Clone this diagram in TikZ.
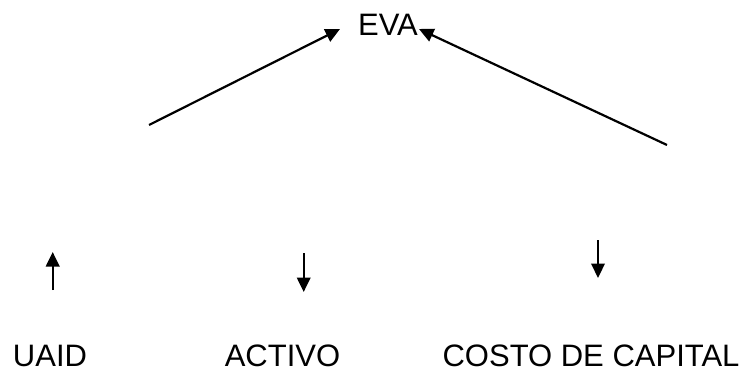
\documentclass[tikz,border=0pt]{standalone}
\usepackage{fontspec}
\setmainfont{Liberation Sans}
\usetikzlibrary{arrows.meta}
\begin{document}
\begin{tikzpicture}[x=1pt,y=-1pt,
  label/.style={inner sep=0pt,anchor=base,font=\fontsize{31}{37}\selectfont},
  arrowline/.style={line width=2.2pt,-{Triangle[length=14.5pt,width=13.5pt]}}]
\useasboundingbox (0,0) rectangle (751,371);
% labels
\node[label] (eva) at (388,36) {EVA};
\node[label] (uaid) at (50,366) {UAID};
\node[label] (activo) at (282.5,366) {ACTIVO};
\node[label] (costo) at (591,366) {COSTO DE CAPITAL};
% arrow end points
\coordinate (la) at (149,125);
\coordinate (lb) at (340,29);
\coordinate (ra) at (667,145);
\coordinate (rb) at (419,29);
\coordinate (u1) at (52.7,290);
\coordinate (u2) at (52.7,252);
\coordinate (a1) at (303.7,253);
\coordinate (a2) at (303.7,292);
\coordinate (c1) at (598,240);
\coordinate (c2) at (598,278);
% arrows
\draw[arrowline] (la) -- (lb);
\draw[arrowline] (ra) -- (rb);
\draw[arrowline] (u1) -- (u2);
\draw[arrowline] (a1) -- (a2);
\draw[arrowline] (c1) -- (c2);
\end{tikzpicture}
\end{document}
